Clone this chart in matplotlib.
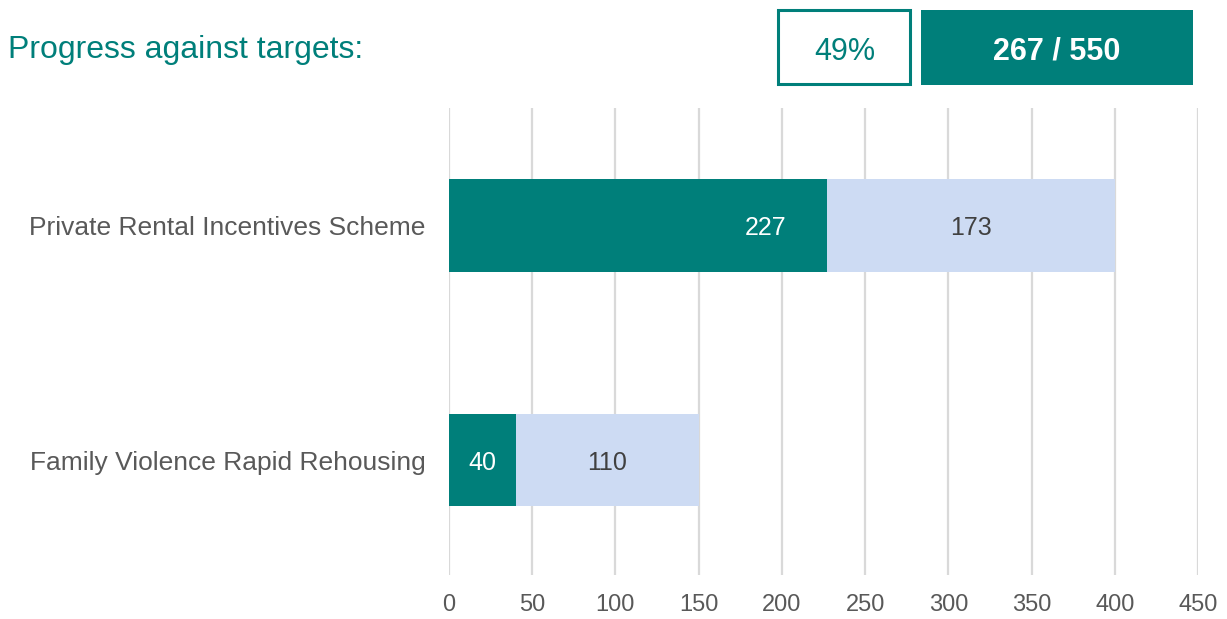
import matplotlib.pyplot as plt
from matplotlib.patches import Rectangle

plt.rcParams["font.family"] = ["Liberation Sans", "DejaVu Sans"]

TEAL = "#007F7A"
LIGHT = "#CDDBF3"

categories = ["Family Violence Rapid Rehousing", "Private Rental Incentives Scheme"]
completed = [40, 227]
remaining = [110, 173]
xticks = [0, 50, 100, 150, 200, 250, 300, 350, 400, 450]
pct_label = "49%"
total_label = "267 / 550"

fig = plt.figure(figsize=(12.27, 6.19), dpi=100)
ax = fig.add_axes([0.3659, 0.0711, 0.6105, 0.7544])

ypos = list(range(len(categories)))
ax.barh(ypos, completed, height=0.395, color=TEAL, zorder=3)
ax.barh(ypos, remaining, left=completed, height=0.395, color=LIGHT, zorder=3)

for y, c, r in zip(ypos, completed, remaining):
    # teal labels sit near the inside end, like the source chart
    ax.text(max(c / 2, c - 37), y, str(c), color="white", fontsize=18,
            ha="center", va="center_baseline", zorder=4)
    ax.text(c + r / 2, y, str(r), color="#404040", fontsize=18,
            ha="center", va="center_baseline", zorder=4)

ax.set_xlim(0, 450)
ax.set_ylim(-0.49, 1.50)
ax.set_xticks(xticks)
ax.set_yticks(ypos)
ax.set_yticklabels(categories)
ax.tick_params(axis="x", length=0, pad=14, labelsize=17, labelcolor="#595959")
ax.tick_params(axis="y", length=0, pad=17, labelsize=19, labelcolor="#595959")
ax.grid(axis="x", color="#D9D9D9", linewidth=1.6, zorder=0)
for s in ax.spines.values():
    s.set_visible(False)

fig.text(0.0065, 0.925, "Progress against targets:", color=TEAL, fontsize=23,
         ha="left", va="center_baseline")

fig.patches.append(Rectangle((0.6344, 0.8643), 0.1076, 0.1195, transform=fig.transFigure,
                             facecolor="white", edgecolor=TEAL, linewidth=2.2))
fig.patches.append(Rectangle((0.7506, 0.8627), 0.2217, 0.1212, transform=fig.transFigure,
                             facecolor=TEAL, edgecolor="none"))
fig.text(0.6882, 0.922, pct_label, color=TEAL, fontsize=22, ha="center",
         va="center_baseline")
fig.text(0.8614, 0.922, total_label, color="white", fontsize=22, fontweight="bold",
         ha="center", va="center_baseline")

fig.savefig("out.png", dpi=100)
